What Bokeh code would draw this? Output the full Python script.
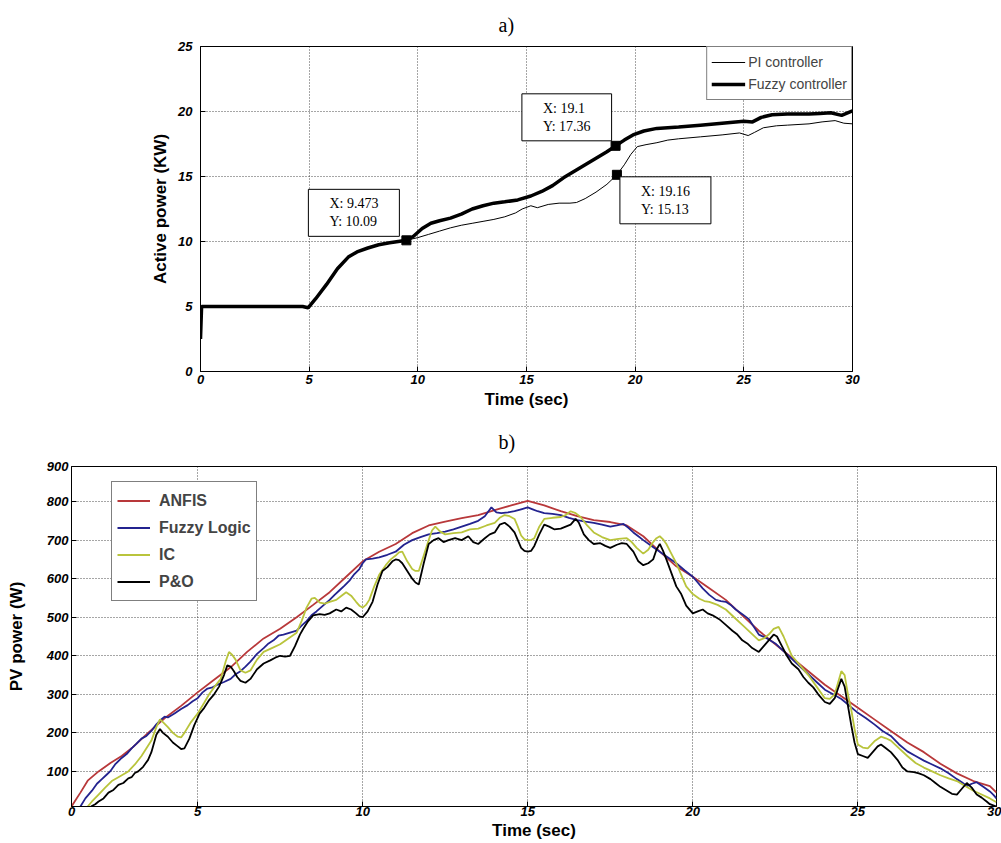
from bokeh.plotting import figure
from bokeh.models import Range1d, FixedTicker, Legend, LegendItem, Label, PrintfTickFormatter
from bokeh.embed import file_html
from bokeh.resources import INLINE

# ---------------- (a) Active power ----------------
a_fuzzy_t = [0, 0.05, 1, 2, 3, 4, 4.7, 4.95, 5.3, 5.8, 6.3, 6.8, 7.2, 7.7, 8.2, 8.7, 9.1, 9.473, 9.8, 10.2,
             10.6, 11.0, 11.5, 12.0, 12.5, 13.0, 13.5, 14.0, 14.6, 15.2, 15.7, 16.2, 16.7, 17.2, 17.7, 18.2,
             18.7, 19.1, 19.5, 19.9, 20.4, 21.0, 22.0, 23.0, 24.0, 25.0, 25.4, 25.8, 26.3, 27.0, 28.0, 28.5,
             29.0, 29.5, 30.0]
a_fuzzy_p = [2.5, 5.0, 5.0, 5.0, 5.0, 5.0, 5.0, 4.9, 5.6, 6.7, 7.9, 8.8, 9.2, 9.5, 9.75, 9.9, 10.0, 10.09, 10.4, 11.0,
             11.4, 11.6, 11.8, 12.1, 12.5, 12.75, 12.95, 13.05, 13.2, 13.5, 13.85, 14.3, 14.9, 15.4, 15.9, 16.4,
             16.9, 17.36, 17.8, 18.2, 18.5, 18.7, 18.8, 18.95, 19.1, 19.25, 19.2, 19.55, 19.75, 19.8, 19.8, 19.85,
             19.9, 19.7, 20.05]

a_pi_t = [0, 0.05, 1, 2, 3, 4, 4.7, 4.95, 5.3, 5.8, 6.3, 6.8, 7.2, 7.7, 8.2, 8.7, 9.1, 9.473,
          10.0, 10.5, 11.0, 11.5, 12.0, 12.5, 13.0, 13.5, 14.0, 14.5, 14.8, 15.2, 15.5, 16.0, 16.5, 17.0,
          17.3, 17.7, 18.2, 18.7, 19.16, 19.5, 19.8, 20.1, 20.5, 21.0, 21.5, 22.0, 23.0, 24.0, 24.8, 25.2,
          25.5, 25.9, 26.5, 27.0, 28.0, 28.6, 29.2, 29.6, 30.0]
a_pi_p = [2.5, 5.0, 5.0, 5.0, 5.0, 5.0, 5.0, 4.9, 5.6, 6.7, 7.9, 8.8, 9.2, 9.5, 9.75, 9.9, 10.0, 10.09,
          10.3, 10.55, 10.8, 11.05, 11.25, 11.4, 11.55, 11.7, 11.9, 12.2, 12.5, 12.75, 12.6, 12.85, 12.95, 12.95,
          13.0, 13.3, 13.8, 14.4, 15.13, 15.9, 16.7, 17.3, 17.45, 17.6, 17.8, 17.9, 18.05, 18.2, 18.35, 18.15,
          18.4, 18.75, 18.9, 18.95, 19.05, 19.2, 19.3, 19.1, 19.05]

a_tip_x = [9.473, 19.1, 19.16]
a_tip_y = [10.09, 17.36, 15.13]
a_tip_text = ["X: 9.473\nY: 10.09", "X: 19.1\nY: 17.36", "X: 19.16\nY: 15.13"]

a_xticks = [0, 5, 10, 15, 20, 25, 30]
a_yticks = [0, 5, 10, 15, 20, 25]

# ---------------- (b) PV power : (time, power) pairs ----------------
b_anfis = [(1.18, 9), (1.45, 45), (1.67, 76), (2.0, 100), (2.36, 122), (2.7, 140), (3.0, 160), (3.5, 200),
           (4.0, 238), (4.5, 270), (5.0, 305), (5.5, 338), (6.0, 370), (6.5, 410), (7.0, 445), (7.5, 470),
           (8.0, 500), (8.5, 532), (9.0, 565), (9.5, 605), (10.0, 645), (10.5, 670), (11.0, 690), (11.5, 718),
           (12.0, 738), (12.5, 748), (13.0, 757), (13.5, 765), (14.0, 778), (14.5, 790), (15.0, 802),
           (15.5, 790), (16.0, 775), (16.5, 762), (17.0, 752), (17.5, 747), (18.0, 738), (18.5, 710),
           (19.0, 670), (19.5, 632), (20.0, 605), (20.5, 575), (21.0, 545), (21.5, 505), (22.0, 465),
           (22.5, 430), (23.0, 395), (23.5, 360), (24.0, 325), (24.5, 295), (25.0, 265), (25.5, 235),
           (26.0, 205), (26.5, 175), (27.0, 150), (27.5, 120), (28.0, 95), (28.5, 75), (29.0, 62), (29.2, 45)]

b_fuzzy = [(1.45, 9), (1.6, 30), (1.8, 50), (1.95, 68), (2.1, 80), (2.25, 92), (2.35, 100), (2.5, 118),
           (2.7, 135), (2.85, 145), (3.0, 160), (3.15, 172), (3.3, 185), (3.45, 192), (3.6, 205), (3.75, 222),
           (3.9, 235), (4.0, 242), (4.1, 240), (4.3, 250), (4.5, 262), (4.7, 272), (4.85, 282), (5.0, 290),
           (5.15, 305), (5.3, 315), (5.45, 318), (5.6, 325), (5.8, 332), (6.0, 340), (6.15, 352), (6.3, 360),
           (6.45, 372), (6.6, 385), (6.8, 405), (7.0, 420), (7.15, 432), (7.3, 440), (7.45, 452), (7.6, 455),
           (7.8, 460), (8.0, 465), (8.15, 478), (8.3, 490), (8.45, 505), (8.6, 515), (8.8, 530), (9.0, 545),
           (9.15, 558), (9.3, 570), (9.45, 582), (9.6, 595), (9.75, 612), (9.9, 625), (10.0, 640), (10.1, 650),
           (10.3, 652), (10.5, 655), (10.75, 662), (11.0, 670), (11.25, 688), (11.5, 700), (11.75, 708),
           (12.0, 715), (12.25, 718), (12.5, 722), (12.75, 728), (13.0, 735), (13.25, 742), (13.5, 750),
           (13.7, 762), (13.9, 785), (14.05, 772), (14.2, 770), (14.4, 772), (14.6, 775), (14.8, 780),
           (15.0, 785), (15.15, 780), (15.3, 775), (15.5, 770), (15.75, 768), (16.0, 765), (16.25, 758),
           (16.5, 752), (16.75, 748), (17.0, 745), (17.25, 740), (17.5, 735), (17.7, 738), (17.9, 742),
           (18.05, 732), (18.2, 720), (18.35, 710), (18.5, 700), (18.75, 685), (19.0, 670), (19.25, 655),
           (19.5, 640), (19.75, 622), (20.0, 605), (20.15, 590), (20.3, 575), (20.5, 558), (20.7, 545),
           (20.85, 542), (21.0, 540), (21.15, 532), (21.3, 520), (21.5, 508), (21.7, 495), (21.85, 475),
           (22.0, 455), (22.25, 445), (22.5, 432), (22.75, 412), (23.0, 392), (23.25, 372), (23.5, 352),
           (23.75, 332), (24.0, 312), (24.25, 300), (24.5, 288), (24.75, 270), (25.0, 252), (25.25, 238),
           (25.5, 222), (25.75, 205), (26.0, 192), (26.25, 170), (26.5, 152), (26.75, 140), (27.0, 128),
           (27.25, 118), (27.5, 108), (27.75, 95), (28.0, 80), (28.15, 72), (28.3, 62), (28.45, 68),
           (28.6, 72), (28.8, 60), (29.0, 48), (29.1, 40), (29.2, 30)]

b_ic = [(1.67, 9), (1.8, 22), (2.0, 40), (2.2, 58), (2.4, 75), (2.6, 85), (2.9, 100), (3.1, 118), (3.3, 140),
        (3.45, 160), (3.6, 180), (3.75, 215), (3.86, 235), (3.95, 228), (4.1, 215), (4.25, 200), (4.4, 190),
        (4.5, 188), (4.6, 200), (4.8, 228), (5.0, 250), (5.2, 278), (5.35, 300), (5.5, 318), (5.7, 340),
        (5.85, 385), (5.95, 410), (6.05, 402), (6.15, 390), (6.3, 362), (6.45, 356), (6.6, 362), (6.8, 390),
        (7.0, 410), (7.25, 420), (7.5, 430), (7.75, 445), (8.0, 460), (8.15, 490), (8.3, 525), (8.45, 548),
        (8.55, 550), (8.7, 538), (8.85, 535), (9.0, 540), (9.2, 545), (9.35, 555), (9.5, 565), (9.65, 556),
        (9.8, 540), (9.9, 530), (10.0, 525), (10.1, 532), (10.2, 545), (10.35, 580), (10.5, 610),
        (10.7, 635), (10.85, 650), (11.0, 660), (11.1, 668), (11.2, 670), (11.35, 645), (11.5, 625),
        (11.6, 620), (11.7, 620), (11.85, 660), (12.0, 700), (12.1, 725), (12.2, 735), (12.35, 722),
        (12.5, 715), (12.75, 718), (13.0, 720), (13.25, 728), (13.5, 730), (13.75, 738), (14.0, 745),
        (14.15, 758), (14.3, 765), (14.45, 762), (14.6, 755), (14.7, 735), (14.8, 712), (14.9, 702),
        (15.0, 700), (15.1, 700), (15.2, 705), (15.35, 735), (15.5, 755), (15.75, 758), (16.0, 760),
        (16.15, 765), (16.3, 775), (16.45, 770), (16.6, 760), (16.8, 738), (17.0, 720), (17.25, 708),
        (17.5, 700), (17.75, 703), (18.0, 705), (18.15, 695), (18.3, 680), (18.5, 665), (18.65, 675),
        (18.8, 695), (18.9, 705), (19.0, 710), (19.1, 702), (19.2, 690), (19.35, 665), (19.5, 640),
        (19.65, 610), (19.8, 580), (20.0, 560), (20.2, 548), (20.35, 542), (20.5, 540), (20.75, 532),
        (21.0, 520), (21.25, 500), (21.5, 480), (21.75, 460), (22.0, 440), (22.15, 445), (22.3, 455),
        (22.45, 470), (22.6, 475), (22.75, 450), (22.9, 420), (23.0, 400), (23.25, 375), (23.5, 350),
        (23.75, 320), (24.0, 290), (24.15, 288), (24.3, 300), (24.4, 330), (24.5, 360), (24.6, 350),
        (24.7, 300), (24.8, 260), (24.9, 210), (25.0, 170), (25.15, 162), (25.3, 160), (25.5, 178),
        (25.7, 190), (25.85, 186), (26.0, 180), (26.25, 160), (26.5, 140), (26.75, 122), (27.0, 110),
        (27.25, 100), (27.5, 90), (27.75, 82), (28.0, 75), (28.25, 62), (28.5, 50), (28.75, 40),
        (29.0, 30), (29.2, 20)]

b_po = [(1.77, 9), (1.9, 15), (2.0, 22), (2.15, 30), (2.3, 45), (2.45, 52), (2.6, 65), (2.75, 70), (2.9, 82),
        (3.0, 85), (3.1, 96), (3.2, 100), (3.35, 112), (3.5, 130), (3.6, 150), (3.75, 195), (3.86, 210),
        (3.95, 200), (4.1, 190), (4.25, 175), (4.4, 165), (4.5, 158), (4.6, 160), (4.75, 185), (4.9, 220),
        (5.06, 250), (5.2, 265), (5.35, 285), (5.5, 300), (5.65, 320), (5.8, 350), (5.9, 375), (6.0, 372),
        (6.1, 360), (6.2, 345), (6.3, 335), (6.45, 330), (6.6, 340), (6.8, 365), (7.0, 380), (7.2, 388),
        (7.35, 395), (7.5, 400), (7.65, 398), (7.8, 400), (7.95, 425), (8.1, 455), (8.2, 470), (8.35, 490),
        (8.5, 505), (8.7, 508), (8.85, 506), (9.0, 510), (9.2, 520), (9.35, 515), (9.5, 525), (9.65, 520),
        (9.8, 510), (9.9, 502), (10.0, 500), (10.15, 515), (10.3, 540), (10.45, 585), (10.6, 620),
        (10.75, 630), (10.9, 645), (11.0, 650), (11.1, 648), (11.2, 640), (11.35, 620), (11.5, 600),
        (11.6, 590), (11.7, 585), (11.85, 640), (12.0, 690), (12.15, 700), (12.3, 705), (12.45, 695),
        (12.6, 700), (12.8, 705), (13.0, 700), (13.2, 710), (13.35, 695), (13.5, 690), (13.7, 705),
        (13.85, 715), (14.0, 720), (14.15, 740), (14.3, 745), (14.45, 735), (14.6, 720), (14.7, 700),
        (14.8, 680), (14.9, 672), (15.0, 670), (15.1, 672), (15.2, 685), (15.35, 715), (15.5, 740),
        (15.65, 735), (15.8, 728), (16.0, 730), (16.15, 735), (16.3, 740), (16.45, 755), (16.55, 745),
        (16.7, 715), (16.85, 700), (17.0, 690), (17.2, 692), (17.35, 685), (17.5, 680), (17.7, 688),
        (17.85, 692), (18.0, 690), (18.1, 680), (18.2, 670), (18.35, 645), (18.5, 635), (18.65, 640),
        (18.8, 650), (18.9, 675), (19.0, 690), (19.1, 672), (19.2, 650), (19.35, 615), (19.5, 580),
        (19.65, 560), (19.8, 530), (20.0, 510), (20.15, 515), (20.3, 520), (20.45, 510), (20.6, 505),
        (20.8, 495), (21.0, 480), (21.2, 465), (21.35, 455), (21.5, 440), (21.65, 432), (21.8, 420),
        (22.0, 410), (22.15, 425), (22.3, 440), (22.45, 455), (22.55, 450), (22.7, 425), (22.85, 400),
        (23.0, 380), (23.2, 365), (23.35, 345), (23.5, 330), (23.65, 318), (23.8, 300), (24.0, 280),
        (24.15, 275), (24.3, 290), (24.4, 315), (24.5, 340), (24.6, 320), (24.7, 270), (24.8, 220),
        (24.9, 175), (25.0, 145), (25.15, 140), (25.3, 135), (25.45, 150), (25.6, 165), (25.7, 170),
        (25.85, 160), (26.0, 150), (26.2, 130), (26.35, 110), (26.5, 100), (26.7, 98), (26.85, 95),
        (27.0, 90), (27.2, 80), (27.35, 70), (27.5, 60), (27.7, 50), (27.85, 42), (28.0, 40), (28.15, 55),
        (28.3, 70), (28.45, 58), (28.6, 40), (28.75, 32), (28.9, 22), (29.0, 15), (29.1, 12), (29.2, 9)]

b_series = ["ANFIS", "Fuzzy Logic", "IC", "P&O"]
b_colors = ["#b8383a", "#23238f", "#b9c43c", "#000000"]

# axis extents of the cropped picture and the labels printed at them
b_xrange = (1.18, 29.2)
b_yrange = (9, 891)
b_xticks = [1.18, 5, 10, 15, 20, 25, 29.2]
b_xlabels = ["0", "5", "10", "15", "20", "25", "30"]
b_yticks = [100, 200, 300, 400, 500, 600, 700, 800, 891]
b_ylabels = ["100", "200", "300", "400", "500", "600", "700", "800", "900"]

TICK_FONT = "Liberation Sans"


def style_axes(p, tick_size, label_size):
    for ax in (p.xaxis[0], p.yaxis[0]):
        ax.major_label_text_font = TICK_FONT
        ax.major_label_text_font_style = "bold italic"
        ax.major_label_text_font_size = tick_size
        ax.major_label_text_color = "black"
        ax.axis_label_text_font = TICK_FONT
        ax.axis_label_text_font_style = "bold"
        ax.axis_label_text_font_size = label_size
        ax.axis_label_text_color = "black"
        ax.major_tick_in = 5
        ax.major_tick_out = 0
        ax.minor_tick_in = 0
        ax.minor_tick_out = 0
        ax.axis_line_color = "black"
        ax.major_tick_line_color = "black"
    for g in (p.xgrid[0], p.ygrid[0]):
        g.grid_line_color = "#222222"
        g.grid_line_dash = "1 2"
        g.grid_line_width = 1
        g.grid_line_alpha = 0.8
    p.outline_line_color = "black"
    p.outline_line_alpha = 1.0
    p.outline_line_width = 1
    p.background_fill_color = "white"
    p.border_fill_color = "white"
    p.title.text_font = "Liberation Serif"
    p.title.text_font_style = "normal"
    p.title.text_font_size = "20px"
    p.title.text_color = "black"
    p.title.align = "left"


# ---------- figure a ----------
p1 = figure(width=1001, height=414, output_backend="svg", toolbar_location=None,
            x_range=Range1d(0, 30), y_range=Range1d(0, 25), title="a)",
            min_border_left=200, min_border_right=149, min_border_top=46, min_border_bottom=43)
p1.xaxis.ticker = FixedTicker(ticks=a_xticks)
p1.yaxis.ticker = FixedTicker(ticks=a_yticks)
p1.xaxis.axis_label = "Time (sec)"
p1.yaxis.axis_label = "Active power (KW)"
style_axes(p1, "13px", "17px")
p1.xaxis.major_label_standoff = 3
p1.xaxis.axis_label_standoff = 3
p1.yaxis.major_label_standoff = 8
p1.yaxis.axis_label_standoff = 5
p1.title.offset = 298
p1.title.standoff = 22

r_pi = p1.line(a_pi_t, a_pi_p, line_color="black", line_width=1)
r_fz = p1.line(a_fuzzy_t, a_fuzzy_p, line_color="black", line_width=3.5)
p1.scatter(a_tip_x, a_tip_y, marker="square", size=9, color="black")

tip_place = [("bottom_right", -7, 4), ("bottom_right", -4, 5), ("top_left", 3, -2)]
for (tx, ty, tt, (anc, xo, yo)) in zip(a_tip_x, a_tip_y, a_tip_text, tip_place):
    p1.add_layout(Label(x=tx, y=ty, text=tt, anchor=anc, x_offset=xo, y_offset=yo,
                        text_font="Liberation Serif", text_font_size="14px", text_color="black",
                        text_align="left", background_fill_color="white", background_fill_alpha=1.0,
                        border_line_color="black", border_line_width=1, padding=(21, 7)))

leg1 = Legend(items=[LegendItem(label="PI controller", renderers=[r_pi]),
                     LegendItem(label="Fuzzy controller", renderers=[r_fz])],
              location="top_right", margin=0, padding=4, spacing=0,
              glyph_width=34, glyph_height=22, label_height=22, label_standoff=3,
              label_text_font=TICK_FONT, label_text_font_size="14px",
              border_line_color="black", border_line_width=1, background_fill_alpha=1.0)
p1.add_layout(leg1)

# ---------- figure b ----------
p2 = figure(width=1001, height=429, output_backend="svg", toolbar_location=None,
            x_range=Range1d(*b_xrange), y_range=Range1d(*b_yrange), title="b)",
            min_border_left=71, min_border_right=5, min_border_top=52, min_border_bottom=37)
p2.xaxis.ticker = FixedTicker(ticks=b_xticks)
p2.yaxis.ticker = FixedTicker(ticks=b_yticks)
p2.xaxis.formatter = PrintfTickFormatter(format="%d")
p2.yaxis.formatter = PrintfTickFormatter(format="%d")
p2.xaxis.major_label_overrides = dict(zip(b_xticks, b_xlabels))
p2.yaxis.major_label_overrides = dict(zip(b_yticks, b_ylabels))
p2.xaxis.axis_label = "Time (sec)"
p2.yaxis.axis_label = "PV power (W)"
style_axes(p2, "13px", "17px")
p2.xaxis.major_label_standoff = 0
p2.xaxis.axis_label_standoff = 2
p2.yaxis.major_label_standoff = 3
p2.yaxis.axis_label_standoff = 18
p2.title.offset = 427
p2.title.standoff = 27

items = []
for name, col, pairs in zip(b_series, b_colors, [b_anfis, b_fuzzy, b_ic, b_po]):
    tt = [q[0] for q in pairs]
    pp = [q[1] for q in pairs]
    r = p2.line(tt, pp, line_color=col, line_width=1.8)
    items.append(LegendItem(label=name, renderers=[r]))

leg2 = Legend(items=items, location=(40, 205), margin=0, padding=5, spacing=0,
              glyph_width=33, glyph_height=27, label_height=27, label_standoff=9,
              label_text_font=TICK_FONT, label_text_font_style="bold", label_text_font_size="16px",
              border_line_color="black", border_line_width=1, background_fill_alpha=1.0)
p2.add_layout(leg2)

open("out.html", "w").write(file_html([p1, p2], INLINE))
